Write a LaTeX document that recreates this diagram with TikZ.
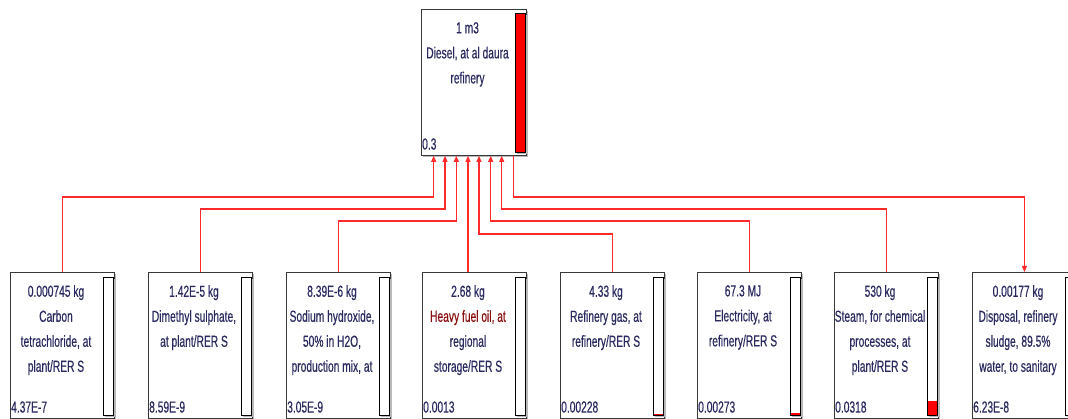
\documentclass[tikz,border=0pt]{standalone}
\usepackage{fontspec}
\setmainfont{Liberation Sans}[FakeStretch=0.64,FakeBold=0.35]
\usetikzlibrary{arrows.meta,shadows,calc}
\definecolor{txt}{HTML}{2A2A60}
\definecolor{hfo}{HTML}{8A1010}
\definecolor{conncol}{HTML}{FF2A2A}
\tikzset{
  proc/.style={draw=gray!45!black, line width=0.9pt, fill=white, anchor=north west,
    minimum width=104pt, minimum height=146pt, inner sep=0pt,
    drop shadow={shadow xshift=1.6pt, shadow yshift=-1.6pt, fill=gray!55, opacity=1}},
  bar/.style={draw=black, line width=0.8pt, fill=white, anchor=north west,
    minimum width=10pt, minimum height=138pt, inner sep=0pt,
    drop shadow={shadow xshift=1.4pt, shadow yshift=-1.4pt, fill=gray!55, opacity=1}},
  lbl/.style={anchor=north, align=center, inner sep=0pt, text=txt,
    font=\fontsize{16}{25}\selectfont},
  num/.style={anchor=south west, inner sep=0pt, text=txt,
    font=\fontsize{16}{25}\selectfont},
  conn/.style={draw=conncol, line width=1.1pt},
  tip/.style={-{Triangle[length=6pt,width=5pt]}},
}
\begin{document}
\begin{tikzpicture}[x=1pt,y=-1pt]
\useasboundingbox (0,0) rectangle (1068,419);
\clip (0,0) rectangle (1068,419);

% top process
\node[proc, minimum width=105pt] (top) at (421,9) {};
\node[bar, minimum height=139pt] (topbar) at ($(top.north east)+(-12,4)$) {};
\fill[red] (topbar.north west) rectangle (topbar.south east);
\draw[black, line width=0.8pt] (topbar.north west) rectangle (topbar.south east);
\node[lbl] (toptxt) at ($(top.north west)+(46.5,13)$) {1 m3\\Diesel, at al daura\\refinery};
\node[num] (topval) at ($(top.south west)+(1,-6)$) {0.3};

% bottom processes
\node[proc] (b1) at (10,272) {};
\node[proc] (b2) at (148,272) {};
\node[proc] (b3) at (286,272) {};
\node[proc] (b4) at (422,272) {};
\node[proc] (b5) at (560,272) {};
\node[proc] (b6) at (697,272) {};
\node[proc] (b7) at (834,272) {};
\node[proc] (b8) at (972,272) {};

\foreach \b in {b1,b2,b3,b4,b5,b6,b7,b8}{
  \node[bar] (\b bar) at ($(\b.north east)+(-12,5)$) {};
}
\fill[red] ($(b5bar.south west)+(0.4,-2.2)$) rectangle ($(b5bar.south east)+(-0.4,-0.4)$);
\fill[red] ($(b6bar.south west)+(0.4,-2.4)$) rectangle ($(b6bar.south east)+(-0.4,-0.4)$);
\fill[red] ($(b7bar.south west)+(0.4,-15)$) rectangle ($(b7bar.south east)+(-0.4,-0.4)$);
\foreach \b in {b5,b6,b7}{
  \draw[black, line width=0.8pt] (\b bar.north west) rectangle (\b bar.south east);
}

\node[lbl] (b1t) at ($(b1.north west)+(46,13)$) {0.000745 kg\\Carbon\\tetrachloride, at\\plant/RER S};
\node[lbl] (b2t) at ($(b2.north west)+(46,13)$) {1.42E-5 kg\\Dimethyl sulphate,\\at plant/RER S};
\node[lbl] (b3t) at ($(b3.north west)+(46,13)$) {8.39E-6 kg\\Sodium hydroxide,\\50\% in H2O,\\production mix, at};
\node[lbl] (b4t) at ($(b4.north west)+(46,13)$) {2.68 kg\\\textcolor{hfo}{Heavy fuel oil, at}\\regional\\storage/RER S};
\node[lbl] (b5t) at ($(b5.north west)+(46,13)$) {4.33 kg\\Refinery gas, at\\refinery/RER S};
\node[lbl] (b6t) at ($(b6.north west)+(46,13)$) {67.3 MJ\\Electricity, at\\refinery/RER S};
\node[lbl] (b7t) at ($(b7.north west)+(46,13)$) {530 kg\\Steam, for chemical\\processes, at\\plant/RER S};
\node[lbl] (b8t) at ($(b8.north west)+(46,13)$) {0.00177 kg\\Disposal, refinery\\sludge, 89.5\%\\water, to sanitary};

\node[num] (b1v) at ($(b1.south west)+(1,-6)$) {4.37E-7};
\node[num] (b2v) at ($(b2.south west)+(1,-6)$) {8.59E-9};
\node[num] (b3v) at ($(b3.south west)+(1,-6)$) {3.05E-9};
\node[num] (b4v) at ($(b4.south west)+(1,-6)$) {0.0013};
\node[num] (b5v) at ($(b5.south west)+(1,-6)$) {0.00228};
\node[num] (b6v) at ($(b6.south west)+(1,-6)$) {0.00273};
\node[num] (b7v) at ($(b7.south west)+(1,-6)$) {0.0318};
\node[num] (b8v) at ($(b8.south west)+(1,-6)$) {6.23E-8};

% connection points on the top process
\coordinate (t1) at ($(top.south west)+(12.7,0)$);
\coordinate (t2) at ($(top.south west)+(24,0)$);
\coordinate (t3) at ($(top.south west)+(35.3,0)$);
\coordinate (t4) at ($(top.south west)+(47,0)$);
\coordinate (t5) at ($(top.south west)+(58,0)$);
\coordinate (t6) at ($(top.south west)+(69.7,0)$);
\coordinate (t7) at ($(top.south west)+(80.7,0)$);
\coordinate (t8) at ($(top.south west)+(92.3,0)$);

\draw[conn,tip] (b1.north) |- (t1 |- 0,197) -- (t1);
\draw[conn,tip] (b2.north) |- (t2 |- 0,209) -- (t2);
\draw[conn,tip] (b3.north) |- (t3 |- 0,221) -- (t3);
\draw[conn,tip] (t4 |- b4.north) -- (t4);
\draw[conn,tip] (b5.north) |- (t5 |- 0,234) -- (t5);
\draw[conn,tip] (b6.north) |- (t6 |- 0,221) -- (t6);
\draw[conn,tip] (b7.north) |- (t7 |- 0,209) -- (t7);
\draw[conn,tip] (t8) |- (b8.north |- 0,197) -- (b8.north);
\end{tikzpicture}
\end{document}
